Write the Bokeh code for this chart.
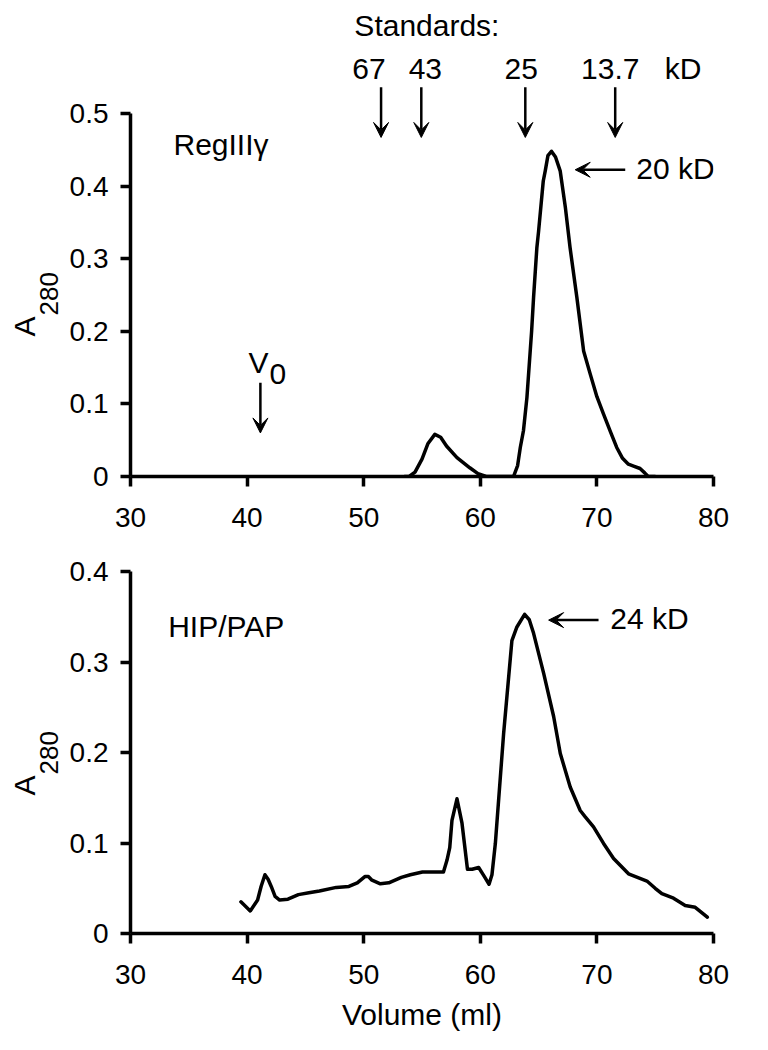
from bokeh.plotting import figure
from bokeh.layouts import column
from bokeh.models import Range1d, FixedTicker, Label, Arrow, VeeHead, Title
from bokeh.embed import file_html
from bokeh.resources import INLINE

FONT = "Liberation Sans"

# ---------------- data ----------------
x_ticks = [30, 40, 50, 60, 70, 80]
x_tick_labels = ["30", "40", "50", "60", "70", "80"]
top_y_ticks = [0, 0.1, 0.2, 0.3, 0.4, 0.5]
top_y_tick_labels = ["0", "0.1", "0.2", "0.3", "0.4", "0.5"]
bot_y_ticks = [0, 0.1, 0.2, 0.3, 0.4]
bot_y_tick_labels = ["0", "0.1", "0.2", "0.3", "0.4"]

# RegIIIgamma elution profile
reg_volume = [53.5, 53.9, 54.4, 55.0, 55.5, 56.1, 56.6, 57.1, 58.0, 59.1, 59.8, 60.5,
              62.0, 62.85, 63.2, 63.43, 63.7, 64.0, 64.4, 64.57, 64.85, 65.0, 65.4,
              65.57, 65.8, 66.1, 66.45, 66.85, 67.3, 67.7, 68.28, 68.86, 69.43, 70.0,
              70.57, 71.2, 71.7, 72.2, 72.7, 73.2, 73.7, 74.1, 74.4, 75.0]
reg_a280 = [0.0, 0.0, 0.006, 0.024, 0.045, 0.058, 0.054, 0.042, 0.026, 0.012, 0.004, 0.0,
            0.0, 0.0, 0.015, 0.04, 0.063, 0.109, 0.20, 0.247, 0.315, 0.338, 0.407,
            0.421, 0.442, 0.448, 0.44, 0.421, 0.37, 0.315, 0.247, 0.173, 0.141, 0.11,
            0.086, 0.06, 0.04, 0.025, 0.017, 0.014, 0.011, 0.005, 0.0, 0.0]

# HIP/PAP elution profile
hip_volume = [39.47, 40.27, 40.9, 41.2, 41.53, 41.8, 42.07, 42.4, 42.79, 43.5, 44.4, 45.3,
              46.2, 47.65, 48.73, 49.45, 50.1, 50.4, 50.71, 51.43, 52.15, 53.23, 54.0,
              55.04, 56.0, 56.84, 57.14, 57.38, 57.57, 58.0, 58.43, 58.9, 59.3, 59.86,
              60.3, 60.75, 61.0, 61.29, 62.0, 62.71, 63.14, 63.8, 64.2, 64.57, 65.43,
              66.29, 66.86, 67.71, 68.57, 69.0, 69.71, 70.57, 71.43, 72.71, 74.29, 75.0,
              75.57, 76.57, 77.57, 78.43, 79.47]
hip_a280 = [0.035, 0.025, 0.037, 0.052, 0.065, 0.06, 0.052, 0.041, 0.037, 0.038, 0.043, 0.045,
            0.047, 0.051, 0.052, 0.056, 0.063, 0.063, 0.059, 0.055, 0.056, 0.062, 0.065,
            0.068, 0.068, 0.068, 0.081, 0.095, 0.125, 0.149, 0.122, 0.071, 0.071, 0.073,
            0.064, 0.0545, 0.065, 0.0995, 0.221, 0.324, 0.339, 0.353, 0.347, 0.332, 0.288,
            0.24, 0.199, 0.162, 0.136, 0.129, 0.118, 0.0996, 0.083, 0.066, 0.058, 0.05,
            0.044, 0.039, 0.031, 0.029, 0.018]

# molecular weight standards
standard_labels = ["67", "43", "25", "13.7"]
standard_volume = [51.49, 54.94, 63.86, 71.57]

# ---------------- styling helpers ----------------
LW = 3.5
TXT = "30px"
TOP_Y0, TOP_PX = 476.0, 726.0     # page px of y=0 and px per unit (top panel)
BOT_Y0, BOT_PX = 933.3, 904.0     # same for bottom panel
X0, XPX = 130.0, 11.667           # page px of x=30 and px per ml
DY = 11.5                         # label baseline compensation (px)


def vx(px):
    return 30 + (px - X0) / XPX


def ty(pb):
    return (TOP_Y0 - (pb - DY)) / TOP_PX


def by(pb):
    return (BOT_Y0 - (pb - DY)) / BOT_PX


def style(p, yt, ylabels):
    p.xgrid.visible = False
    p.ygrid.visible = False
    p.outline_line_color = None
    for ax in (p.xaxis[0], p.yaxis[0]):
        ax.axis_line_width = LW
        ax.axis_line_color = "black"
        ax.major_tick_line_width = LW
        ax.major_tick_line_color = "black"
        ax.major_tick_out = 10
        ax.major_tick_in = 0
        ax.minor_tick_line_color = None
        ax.major_label_text_font = FONT
        ax.major_label_text_font_size = "28px"
        ax.major_label_text_color = "black"
        ax.axis_label_text_font = FONT
        ax.axis_label_text_font_size = TXT
        ax.axis_label_text_font_style = "normal"
        ax.axis_label_text_color = "black"
    p.xaxis[0].ticker = FixedTicker(ticks=x_ticks)
    p.xaxis[0].major_label_overrides = {t: l for t, l in zip(x_ticks, x_tick_labels)}
    p.xaxis[0].bounds = (x_ticks[0], x_ticks[-1])
    p.xaxis[0].major_label_standoff = 21
    p.yaxis[0].ticker = FixedTicker(ticks=yt)
    p.yaxis[0].major_label_overrides = {t: l for t, l in zip(yt, ylabels)}
    p.yaxis[0].bounds = (yt[0], yt[-1])
    p.yaxis[0].major_label_standoff = 12


def txt(p, x, y, text, size=TXT, align="left"):
    p.add_layout(Label(x=x, y=y, text=text, text_font=FONT, text_font_size=size,
                       text_align=align, text_baseline="alphabetic",
                       text_color="black"))


def arrow(p, x0, y0, x1, y1):
    p.add_layout(Arrow(end=VeeHead(size=15, fill_color="black", line_color="black", line_width=1),
                       x_start=x0, y_start=y0, x_end=x1, y_end=y1,
                       line_width=2.5, line_color="black"))


def ylabel(p, off_a):
    p.add_layout(Title(text="280", align="left", offset=off_a + 21, standoff=17,
                       text_font=FONT, text_font_size="26px", text_font_style="normal",
                       text_color="black"), "left")
    p.add_layout(Title(text="A", align="left", offset=off_a, standoff=-22,
                       text_font=FONT, text_font_size=TXT, text_font_style="normal",
                       text_color="black"), "left")


# ---------------- top panel ----------------
top = figure(width=753, height=546, x_range=Range1d(30, 80), y_range=Range1d(0, 0.6446),
             output_backend="svg", toolbar_location=None,
             min_border_left=130, min_border_right=40, min_border_top=8, min_border_bottom=70)
style(top, top_y_ticks, top_y_tick_labels)
top.line(reg_volume, reg_a280, line_width=LW, line_color="black",
         line_join="round", line_cap="round")

txt(top, vx(354), ty(36.7), "Standards:")
for lab, v, cpx in zip(standard_labels, standard_volume, [368.7, 425, 521, 610]):
    txt(top, vx(cpx), ty(80), lab, align="center")
    arrow(top, v, 0.536, v, 0.467)
txt(top, vx(683), ty(80), "kD", align="center")

txt(top, vx(173), ty(156), "RegIIIγ")
arrow(top, 72.43, 0.4225, 68.14, 0.4225)
txt(top, vx(636), ty(179.3), "20 kD")

txt(top, vx(258), ty(373.3), "V", align="center")
txt(top, vx(269), ty(385), "0")
arrow(top, 41.14, 0.129, 41.14, 0.06)

ylabel(top, 140)

# ---------------- bottom panel ----------------
bot = figure(width=753, height=502, x_range=Range1d(30, 80), y_range=Range1d(0, 0.428),
             output_backend="svg", toolbar_location=None,
             min_border_left=130, min_border_right=40, min_border_top=0, min_border_bottom=115)
style(bot, bot_y_ticks, bot_y_tick_labels)
bot.xaxis[0].axis_label = "Volume (ml)"
bot.xaxis[0].axis_label_standoff = 11
bot.line(hip_volume, hip_a280, line_width=LW, line_color="black",
         line_join="round", line_cap="round")

txt(bot, vx(167.7), by(638.3), "HIP/PAP")
arrow(bot, 70.14, 0.3466, 65.86, 0.3466)
txt(bot, vx(610), by(630), "24 kD")

ylabel(bot, 138)

layout = column(top, bot)
open("out.html", "w").write(file_html(layout, INLINE))
